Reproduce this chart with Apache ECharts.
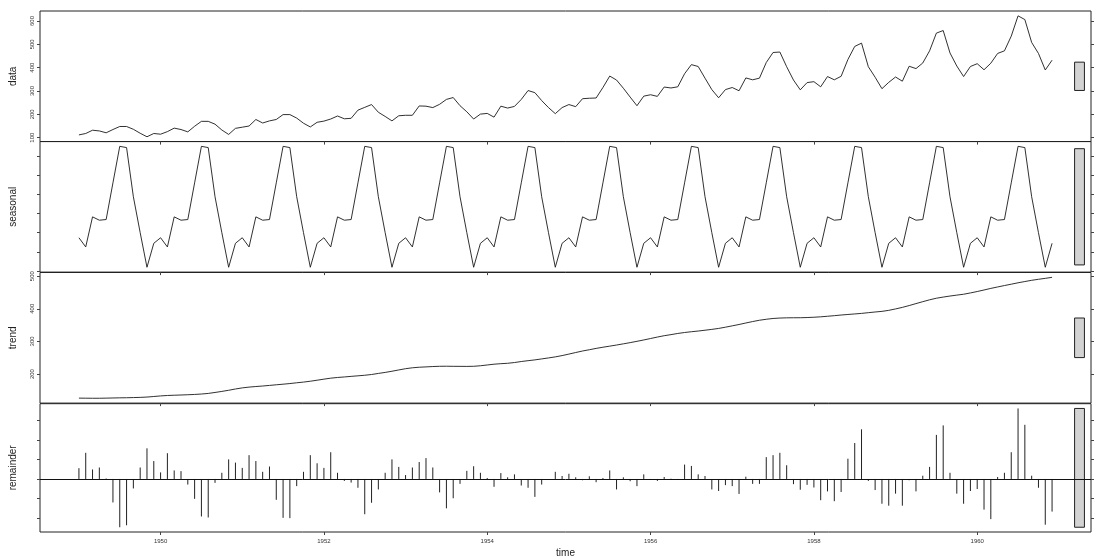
<!DOCTYPE html>
<html>
<head>
<meta charset="utf-8">
<script src="https://cdn.jsdelivr.net/npm/echarts@6/dist/echarts.min.js"></script>
<style>
html,body{margin:0;padding:0;background:#fff}
#chart{width:1098px;height:559px}
</style>
</head>
<body>
<div id="chart"></div>
<script>
// STL decomposition of monthly airline passengers, 1949-1960
const startYear = 1949;
const panelNames = ['data', 'seasonal', 'trend', 'remainder'];
const yearTicks = [1950, 1952, 1954, 1956, 1958, 1960];
const dataTicks = [100, 200, 300, 400, 500, 600];
const seasonalTicks = [-60, -40, -20, 0, 20, 40, 60];
const trendTicks = [200, 300, 400, 500];
const remainderTicks = [-40, -20, 0, 20, 40, 60];

const passengers = [
  112,118,132,129,121,135,148,148,136,119,104,118,
  115,126,141,135,125,149,170,170,158,133,114,140,
  145,150,178,163,172,178,199,199,184,162,146,166,
  171,180,193,181,183,218,230,242,209,191,172,194,
  196,196,236,235,229,243,264,272,237,211,180,201,
  204,188,235,227,234,264,302,293,259,229,203,229,
  242,233,267,269,270,315,364,347,312,274,237,278,
  284,277,317,313,318,374,413,405,355,306,271,306,
  315,301,356,348,355,422,465,467,404,347,305,336,
  340,318,362,348,363,435,491,505,404,359,310,337,
  360,342,406,396,420,472,548,559,463,407,362,405,
  417,391,419,461,472,535,622,606,508,461,390,432
];

const seasonal = [
  -25.3,-34.9,-3.5,-7.0,-6.3,32.0,70.1,68.8,17.5,-20.0,-56.1,-31.1,
  -25.3,-34.9,-3.5,-7.0,-6.3,32.0,70.1,68.8,17.5,-20.0,-56.1,-31.1,
  -25.3,-34.9,-3.5,-7.0,-6.3,32.0,70.1,68.8,17.5,-20.0,-56.1,-31.1,
  -25.3,-34.9,-3.5,-7.0,-6.3,32.0,70.1,68.8,17.5,-20.0,-56.1,-31.1,
  -25.3,-34.9,-3.5,-7.0,-6.3,32.0,70.1,68.8,17.5,-20.0,-56.1,-31.1,
  -25.3,-34.9,-3.5,-7.0,-6.3,32.0,70.1,68.8,17.5,-20.0,-56.1,-31.1,
  -25.3,-34.9,-3.5,-7.0,-6.3,32.0,70.1,68.8,17.5,-20.0,-56.1,-31.1,
  -25.3,-34.9,-3.5,-7.0,-6.3,32.0,70.1,68.8,17.5,-20.0,-56.1,-31.1,
  -25.3,-34.9,-3.5,-7.0,-6.3,32.0,70.1,68.8,17.5,-20.0,-56.1,-31.1,
  -25.3,-34.9,-3.5,-7.0,-6.3,32.0,70.1,68.8,17.5,-20.0,-56.1,-31.1,
  -25.3,-34.9,-3.5,-7.0,-6.3,32.0,70.1,68.8,17.5,-20.0,-56.1,-31.1,
  -25.3,-34.9,-3.5,-7.0,-6.3,32.0,70.1,68.8,17.5,-20.0,-56.1,-31.1
];

const trend = [
  126.2,126.0,125.8,125.8,126.2,126.7,127.1,127.4,127.9,128.5,129.5,131.2,
  133.0,134.3,135.1,135.8,136.6,137.5,138.8,140.6,143.6,146.8,150.3,154.2,
  157.6,160.0,161.8,163.3,165.2,167.1,168.9,170.9,173.2,175.4,178.0,181.1,
  184.4,187.4,189.5,191.1,192.9,194.6,196.3,198.6,201.9,205.0,208.6,212.6,
  216.4,219.2,220.9,221.9,223.0,223.8,224.0,223.7,223.6,223.4,223.8,225.4,
  227.8,230.2,231.8,233.0,235.3,238.4,241.0,243.4,246.4,249.4,252.6,256.6,
  261.2,266.0,270.6,274.5,278.6,282.2,285.5,288.9,292.6,296.3,300.3,304.5,
  308.9,313.4,317.5,320.8,324.4,327.3,329.7,331.8,334.3,336.9,339.8,343.6,
  347.7,351.9,356.5,360.9,364.9,367.9,370.3,371.6,372.3,372.5,372.6,373.2,
  374.1,375.4,377.1,378.9,380.9,382.6,384.2,385.9,388.1,390.2,392.1,395.2,
  399.6,404.3,409.9,415.9,421.8,427.5,432.4,435.9,439.1,441.9,444.6,448.6,
  452.9,457.6,462.5,466.9,471.2,475.4,479.7,483.5,487.3,490.4,493.3,496.4
];

const remainder = [
  11,26.7,9.7,11.7,0.5,-24,-49.3,-47.3,-9.7,11.7,31.3,18.3,
  6.7,26.3,8.7,8,-5.7,-20.3,-38.3,-39.3,-4,6.3,20,16.7,
  11.3,24.3,18.3,7.3,12.7,-21.3,-39.7,-40,-7.3,7.3,24.3,16,
  11.3,27.3,6.3,-2,-3.7,-9,-36,-24.3,-10.7,6.3,20,12.3,
  4,11.7,17.3,21.3,11.7,-13.7,-30,-19.7,-5,8.3,13,6.3,
  1,-8,6,1.7,4.7,-6.7,-9,-18.3,-5.7,0,7.3,3,
  5.3,1.7,-1.3,2.7,-3.3,1,8.7,-10.7,1.7,-2.3,-7.3,4.7,
  -0.3,-2,2,0.3,-0.7,14.7,13.3,4.7,3,-10.7,-12.3,-6.3,
  -7.3,-15.3,2.3,-5,-5,22.3,24.3,26.7,14,-5.3,-11,-6,
  -8.7,-21.7,-12.7,-22.7,-13.3,20.7,36.7,50.7,-2,-11.3,-25.3,-27.3,
  -15,-27.3,-1.3,-12.7,3.3,12.3,45,54.7,6.3,-15,-25.3,-12.3,
  -10.3,-31.3,-41,2,6.3,27.3,72,55.3,3.3,-9,-46.7,-33.3
];

const components = [passengers, seasonal, trend, remainder];
const tickSets = [dataTicks, seasonalTicks, trendTicks, remainderTicks];

// time value of each monthly observation
const times = passengers.map((_, i) => startYear + i / 12);
const tFirst = times[0], tLast = times[times.length - 1];
const xPad = 0.04 * (tLast - tFirst);
const xMin = tFirst - xPad, xMax = tLast + xPad;

// padded y ranges, like R's default axis extension
const ranges = components.map(a => [Math.min(...a), Math.max(...a)]);
const yLims = ranges.map(([lo, hi]) => { const p = 0.04 * (hi - lo); return [lo - p, hi + p]; });
// common scale reference for the range bars
const mx = Math.min(...ranges.map(([lo, hi]) => hi - lo));

const panelTop = [11, 141.5, 272.5, 403.7];
const panelH = 130.6;
const textColor = '#333';
const plain = v => String(Math.round(v));

const grids = [], xAxes = [], yAxes = [], series = [];
components.forEach((vals, k) => {
  const last = k === components.length - 1;
  grids.push({left: 39.5, right: 7, top: panelTop[k], height: panelH, show: true,
    borderColor: '#222', borderWidth: 1, backgroundColor: 'transparent'});
  xAxes.push({
    gridIndex: k, type: 'value', min: xMin, max: xMax, position: 'bottom',
    axisLine: {show: false, onZero: false}, splitLine: {show: false},
    axisTick: {show: true, inside: false, length: 3, customValues: yearTicks, lineStyle: {color: '#444'}},
    axisLabel: {show: last, customValues: yearTicks, formatter: plain, fontSize: 6, color: textColor, margin: 6,
      fontFamily: 'Liberation Sans'},
    name: last ? 'time' : '', nameLocation: 'middle', nameGap: 16,
    nameTextStyle: {fontSize: 10, color: '#222', fontFamily: 'Liberation Sans'}
  });
  const [ymin, ymax] = yLims[k];
  const labelsLeft = k % 2 === 0;
  yAxes.push({
    gridIndex: k, type: 'value', min: ymin, max: ymax, position: 'left',
    axisLine: {show: false, onZero: false}, splitLine: {show: false},
    axisTick: {show: true, inside: false, length: 3, customValues: tickSets[k], lineStyle: {color: '#444'}},
    axisLabel: {show: labelsLeft, customValues: tickSets[k], formatter: plain, rotate: 90, fontSize: 6,
      color: textColor, margin: 5, fontFamily: 'Liberation Sans'},
    name: panelNames[k], nameLocation: 'middle', nameGap: 22, nameRotate: 90,
    nameTextStyle: {fontSize: 10, color: '#222', fontFamily: 'Liberation Sans'}
  });
  yAxes.push({
    gridIndex: k, type: 'value', min: ymin, max: ymax, position: 'right',
    axisLine: {show: false, onZero: false}, splitLine: {show: false},
    axisTick: {show: true, inside: false, length: 3, customValues: tickSets[k], lineStyle: {color: '#444'}},
    axisLabel: {show: false}
  });

  const pts = vals.map((v, i) => [times[i], v]);
  if (!last) {
    series.push({type: 'line', xAxisIndex: k, yAxisIndex: 2 * k, data: pts, symbol: 'none',
      lineStyle: {color: '#1a1a1a', width: 0.9}, animation: false, silent: true});
  } else {
    // remainder drawn as vertical spikes from zero
    series.push({type: 'custom', xAxisIndex: k, yAxisIndex: 2 * k, data: pts, animation: false, silent: true,
      renderItem: (params, api) => {
        const p0 = api.coord([api.value(0), 0]);
        const p1 = api.coord([api.value(0), api.value(1)]);
        return {type: 'line', shape: {x1: p0[0], y1: p0[1], x2: p1[0], y2: p1[1]},
          style: {stroke: '#222', lineWidth: 1}};
      },
      markLine: {silent: true, symbol: 'none', animation: false, label: {show: false},
        lineStyle: {color: '#111', type: 'solid', width: 1}, data: [{yAxis: 0}]}
    });
  }

  // range bar at the right edge of each panel
  const dx = (xMax - xMin) / 64;
  const mid = (ranges[k][0] + ranges[k][1]) / 2;
  series.push({type: 'custom', xAxisIndex: k, yAxisIndex: 2 * k, data: [[mid]], animation: false,
    silent: true, clip: false,
    renderItem: (params, api) => {
      const c = api.value(0);
      const a = api.coord([xMax - dx, c + mx / 2]);
      const b = api.coord([xMax - 0.4 * dx, c - mx / 2]);
      return {type: 'rect', shape: {x: a[0], y: a[1], width: b[0] - a[0], height: b[1] - a[1]},
        style: {fill: '#d3d3d3', stroke: '#222', lineWidth: 1}};
    }
  });
});

const chart = echarts.init(document.getElementById('chart'), null, {renderer: 'canvas'});
chart.setOption({
  backgroundColor: '#fff',
  animation: false,
  grid: grids,
  xAxis: xAxes,
  yAxis: yAxes,
  series: series
});
</script>
</body>
</html>
